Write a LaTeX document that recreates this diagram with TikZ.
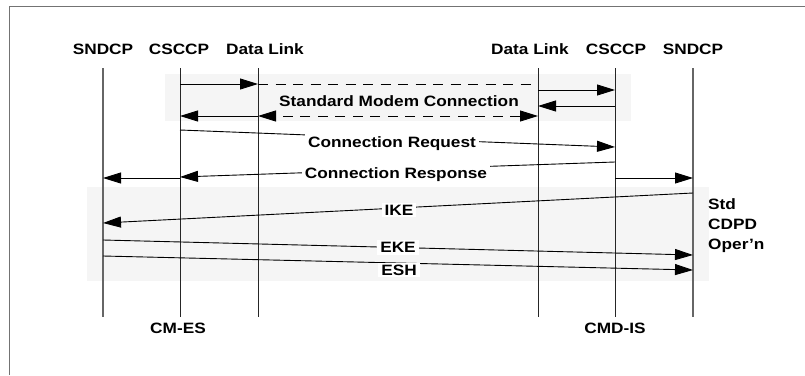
\documentclass[tikz,border=0pt]{standalone}
\usepackage{fontspec}
\setmainfont[FakeStretch=1.15]{Liberation Sans}
\usetikzlibrary{arrows.meta}
\begin{document}
\begin{tikzpicture}[x=1pt,y=-1pt,
  lbl/.style={font=\fontsize{15}{18}\selectfont\bfseries, inner sep=0pt, anchor=base},
  wlbl/.style={lbl, fill=white, inner xsep=3pt, inner ysep=2pt},
  life/.style={line width=0.9pt, black!85},
  lifeg/.style={line width=1.3pt, black!60},
  msg/.style={line width=0.9pt, black},
  tip/.style={-{Triangle[length=18pt,width=11pt]}},
  tips/.style={{Triangle[length=18pt,width=11pt]}-{Triangle[length=18pt,width=11pt]}},
  dsh/.style={dash pattern=on 10pt off 7.5pt},
  band/.style={fill=black!4, draw=none},
  frameline/.style={line width=1.5pt, black!55}]
\useasboundingbox (0,0) rectangle (805,375);
% frame
\coordinate (fbl) at (9.5,375);
\coordinate (ftl) at (9.5,6.5);
\coordinate (ftr) at (805,6.5);
\draw[frameline] (fbl) -- (ftl) -- (ftr);
% bands
\path[band] (165,74) rectangle (631,121);
\path[band] (87,187) rectangle (709,281);
% headers
\node[lbl] (h1) at (103,54) {SNDCP};
\node[lbl] (h2) at (179,54) {CSCCP};
\node[lbl] (h3) at (265,54) {Data Link};
\node[lbl] (h4) at (530,54) {Data Link};
\node[lbl] (h5) at (616,54) {CSCCP};
\node[lbl] (h6) at (693,54) {SNDCP};
% lifelines
\coordinate (L1t) at (103,68); \coordinate (L1b) at (103,317);
\coordinate (L2t) at (180,68); \coordinate (L2b) at (180,317);
\coordinate (L3t) at (258,68); \coordinate (L3b) at (258,317);
\coordinate (L4t) at (538,68); \coordinate (L4b) at (538,317);
\coordinate (L5t) at (615,68); \coordinate (L5b) at (615,317);
\coordinate (L6t) at (693,68); \coordinate (L6b) at (693,317);
\draw[lifeg] (L1t) -- (L1b);
\draw[life] (L2t) -- (L2b);
\draw[life] (L3t) -- (L3b);
\draw[life] (L4t) -- (L4b);
\draw[life] (L5t) -- (L5b);
\draw[lifeg] (L6t) -- (L6b);
% standard modem connection
\coordinate (a1) at (180,84); \coordinate (a2) at (258,84); \coordinate (a3) at (538,84);
\draw[msg,tip] (a1) -- (a2);
\draw[msg,dsh] (a2) -- (a3);
\coordinate (b1) at (538,90); \coordinate (b2) at (615,90);
\draw[msg,tip] (b1) -- (b2);
\coordinate (c1) at (615,106); \coordinate (c2) at (538,106);
\draw[msg,tip] (c1) -- (c2);
\coordinate (d1) at (538,116); \coordinate (d2) at (258,116); \coordinate (d3) at (180,116);
\draw[msg,dsh,tips] (d1) -- (d2);
\draw[msg,tip] (d2) -- (d3);
\node[lbl] (smc) at (399,106) {Standard Modem Connection};
% connection request
\coordinate (e1) at (180,130); \coordinate (e2) at (615,147);
\draw[msg,tip] (e1) -- (e2);
\node[wlbl] (creq) at (392,147) {Connection Request};
% connection response
\coordinate (f1) at (615,162); \coordinate (f2) at (180,177);
\draw[msg,tip] (f1) -- (f2);
\coordinate (g1) at (180,178); \coordinate (g2) at (103,178);
\draw[msg,tip] (g1) -- (g2);
\coordinate (g3) at (615,178); \coordinate (g4) at (693,178);
\draw[msg,tip] (g3) -- (g4);
\node[wlbl] (cresp) at (396,178) {Connection Response};
% IKE / EKE / ESH
\coordinate (i1) at (693,193); \coordinate (i2) at (103,223);
\draw[msg,tip] (i1) -- (i2);
\node[wlbl] (ike) at (399,215) {IKE};
\coordinate (k1) at (103,240); \coordinate (k2) at (693,255);
\draw[msg,tip] (k1) -- (k2);
\node[wlbl] (eke) at (398,252.5) {EKE};
\coordinate (s1) at (103,256); \coordinate (s2) at (693,270);
\draw[msg,tip] (s1) -- (s2);
\node[wlbl] (esh) at (399,275) {ESH};
% std cdpd
\node[lbl, anchor=base west] (std1) at (708,209) {Std};
\node[lbl, anchor=base west] (std2) at (708,229) {CDPD};
\node[lbl, anchor=base west] (std3) at (708,249) {Oper’n};
% bottom labels
\node[lbl] (cmes) at (178,333) {CM-ES};
\node[lbl] (cmdis) at (615,333) {CMD-IS};
\end{tikzpicture}
\end{document}
